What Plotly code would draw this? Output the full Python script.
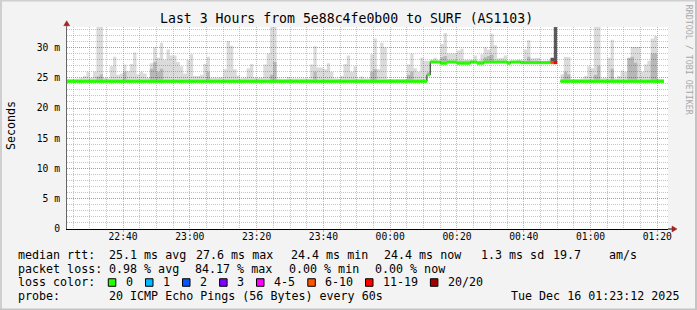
import plotly.graph_objects as go
from datetime import datetime, timedelta

# ---------------- data ----------------
TITLE = "Last 3 Hours from 5e88c4fe0b00 to SURF (AS1103)"
START = datetime(2025, 12, 15, 22, 23, 0)      # first 60 s bin
STEP_S = 60
VIEW = ["2025-12-15 22:23:12", "2025-12-16 01:23:12"]

# median rtt per minute (ms); None = no data
median_ms = [
    24.4, 24.4, 24.4, 24.4, 24.4, 24.4, 24.4, 24.4, 24.4, 24.4,
    24.4, 24.4, 24.4, 24.4, 24.4, 24.4, 24.4, 24.4, 24.4, 24.4,
    24.4, 24.4, 24.4, 24.4, 24.4, 24.4, 24.4, 24.4, 24.4, 24.4,
    24.4, 24.4, 24.4, 24.4, 24.4, 24.4, 24.4, 24.4, 24.4, 24.4,
    24.4, 24.4, 24.4, 24.4, 24.4, 24.4, 24.4, 24.4, 24.4, 24.4,
    24.4, 24.4, 24.4, 24.4, 24.4, 24.4, 24.4, 24.4, 24.4, 24.4,
    24.4, 24.4, 24.4, 24.4, 24.4, 24.4, 24.4, 24.4, 24.4, 24.4,
    24.4, 24.4, 24.4, 24.4, 24.4, 24.4, 24.4, 24.4, 24.4, 24.4,
    24.4, 24.4, 24.4, 24.4, 24.4, 24.4, 24.4, 24.4, 24.4, 24.4,
    24.4, 24.4, 24.4, 24.4, 24.4, 24.4, 24.4, 24.4, 24.4, 24.4,
    24.4, 24.4, 24.4, 24.4, 24.4, 24.4, 24.4, 24.4, 25.5, 27.6,
    27.6, 27.6, 27.4, 27.4, 27.6, 27.6, 27.6, 27.4, 27.4, 27.4,
    27.4, 27.6, 27.6, 27.4, 27.4, 27.6, 27.6, 27.6, 27.6, 27.6,
    27.6, 27.6, 27.4, 27.6, 27.6, 27.6, 27.5, 27.5, 27.5, 27.5,
    27.5, 27.5, 27.5, 27.5, 27.5, 27.5, 27.5, None, 24.4, 24.4,
    24.4, 24.4, 24.4, 24.4, 24.4, 24.4, 24.4, 24.4, 24.4, 24.4,
    24.4, 24.4, 24.4, 24.4, 24.4, 24.4, 24.4, 24.4, 24.4, 24.4,
    24.4, 24.4, 24.4, 24.4, 24.4, 24.4, 24.4, 24.4, 24.4,
]

# highest ping of each minute (outer smoke, ms)
smoke_top_ms = [
    24.8, 24.9, 24.8, 24.9, 25.0, 25.3, 26.0, 25.0, 26.0, 33.4,
    33.4, 25.0, 24.9, 26.9, 28.5, 25.5, 25.7, 27.2, 26.1, 27.3,
    29.2, 25.6, 26.0, 25.7, 25.0, 27.4, 30.0, 28.3, 30.8, 28.0,
    29.7, 28.7, 28.7, 27.6, 26.9, 25.7, 28.0, 28.9, 25.3, 25.3,
    25.5, 27.3, 28.5, 25.0, 24.9, 25.0, 25.1, 26.4, 31.1, 30.3,
    26.4, 25.4, 24.9, 25.0, 26.6, 27.3, 25.0, 24.9, 25.0, 27.2,
    29.0, 33.4, 33.4, 24.9, 24.8, 24.8, 25.1, 24.9, 24.8, 24.8,
    24.9, 24.8, 24.9, 27.2, 30.2, 26.7, 26.7, 26.4, 27.4, 26.0,
    24.9, 24.9, 25.3, 27.3, 28.7, 26.0, 26.9, 24.9, 25.2, 24.9,
    24.9, 28.9, 31.5, 26.4, 30.8, 30.0, 24.8, 24.7, 24.8, 24.7,
    24.8, 24.8, 27.2, 29.0, 26.6, 26.0, 28.3, 27.8, 27.8, 28.0,
    28.3, 27.8, 30.6, 32.4, 29.0, 29.0, 29.0, 29.5, 29.8, 28.0,
    28.0, 28.0, 28.7, 27.8, 28.9, 30.0, 29.7, 32.3, 30.4, 28.2,
    28.3, 28.7, 27.8, 27.7, 27.8, 28.0, 28.0, 29.7, 31.2, 28.2,
    28.3, 28.3, 27.8, 27.7, 27.9, 28.3, 33.4, None, 25.6, 28.5,
    28.4, 24.8, 24.7, 24.8, 24.9, 25.3, 26.9, 26.6, 33.4, 33.4,
    24.9, 25.0, 28.3, 31.3, 24.9, 25.3, 26.2, 26.0, 28.3, 30.1,
    30.2, 30.1, 26.0, 27.2, 27.8, 31.5, 31.9, 24.9, 24.8,
]

# upper edge of the denser inner smoke (ms)
smoke_mid_ms = [
    24.7, 24.7, 24.7, 24.7, 24.7, 24.7, 24.7, 24.7, 24.7, 25.2,
    25.6, 24.7, 24.7, 24.7, 24.7, 24.7, 24.7, 26.0, 24.7, 24.7,
    24.7, 24.7, 24.7, 24.7, 24.7, 26.5, 27.6, 26.0, 26.5, 24.7,
    24.7, 24.7, 24.7, 24.7, 24.7, 24.7, 24.7, 24.7, 24.7, 24.7,
    24.7, 24.7, 26.0, 24.7, 24.7, 24.7, 24.7, 24.7, 24.7, 24.7,
    24.7, 24.7, 24.7, 24.7, 24.7, 24.7, 24.7, 24.7, 24.7, 24.7,
    24.7, 25.5, 27.6, 24.7, 24.7, 24.7, 24.7, 24.7, 24.7, 24.7,
    24.7, 24.7, 24.7, 24.7, 26.0, 24.7, 24.7, 24.7, 24.7, 24.7,
    24.7, 24.7, 24.7, 24.7, 24.7, 24.7, 24.7, 24.7, 24.7, 24.7,
    24.7, 26.0, 26.4, 24.7, 24.7, 24.7, 24.7, 24.7, 24.7, 24.7,
    24.7, 24.7, 25.5, 26.0, 24.7, 24.7, 24.7, 24.7, 25.9, 27.8,
    27.8, 27.8, 28.4, 28.6, 27.8, 27.8, 27.8, 27.8, 27.8, 27.8,
    27.8, 27.8, 27.8, 27.8, 27.8, 28.4, 28.6, 28.8, 27.8, 27.8,
    27.8, 27.8, 27.8, 27.7, 27.8, 27.8, 27.8, 27.8, 28.5, 27.8,
    27.8, 27.8, 27.8, 27.7, 27.8, 28.3, 33.4, None, 24.8, 26.0,
    25.6, 24.7, 24.7, 24.7, 24.7, 24.7, 24.7, 24.7, 25.5, 27.0,
    24.7, 24.7, 24.7, 26.5, 24.7, 24.7, 24.7, 24.7, 28.5, 28.5,
    27.5, 24.7, 24.7, 24.7, 24.7, 29.0, 29.0, 24.7, 24.7,
]

# lost pings (of 20) per minute
loss_pings = [
    0, 0, 0, 0, 0, 0, 0, 0, 0, 0, 0, 0, 0, 0, 0, 0, 0, 0, 0, 0,
    0, 0, 0, 0, 0, 0, 0, 0, 0, 0, 0, 0, 0, 0, 0, 0, 0, 0, 0, 0,
    0, 0, 0, 0, 0, 0, 0, 0, 0, 0, 0, 0, 0, 0, 0, 0, 0, 0, 0, 0,
    0, 0, 0, 0, 0, 0, 0, 0, 0, 0, 0, 0, 0, 0, 0, 0, 0, 0, 0, 0,
    0, 0, 0, 0, 0, 0, 0, 0, 0, 0, 0, 0, 0, 0, 0, 0, 0, 0, 0, 0,
    0, 0, 0, 0, 0, 0, 0, 0, 0, 0, 0, 0, 0, 0, 0, 0, 0, 0, 0, 0,
    0, 0, 0, 0, 0, 0, 0, 0, 0, 0, 0, 0, 0, 0, 0, 0, 0, 0, 0, 0,
    0, 0, 0, 0, 0, 8, 17, 20, 0, 0, 0, 0, 0, 0, 0, 0, 0, 0, 0, 0,
    0, 0, 0, 0, 0, 0, 0, 0, 0, 0, 0, 0, 0, 0, 0, 0, 0, 0, 0,
]

y_tick_vals = [0, 5, 10, 15, 20, 25, 30]
y_tick_text = ["0", "5 m", "10 m", "15 m", "20 m", "25 m", "30 m"]
Y_MAX = 33.4

loss_labels = ["0", "1", "2", "3", "4-5", "6-10", "11-19", "20/20"]
loss_colors = ["#26ff00", "#00b8ff", "#0059ff", "#7e00ff",
               "#ff00ff", "#ff5500", "#ff0000", "#a10000"]
loss_upper = [0, 1, 2, 3, 5, 10, 19, 20]

rtt_fields = ["median rtt:", "25.1 ms avg", "27.6 ms max", "24.4 ms min",
              "24.4 ms now", "1.3 ms sd", "19.7", "am/s"]
pl_fields = ["packet loss:", "0.98 % avg", "84.17 % max", "0.00 % min", "0.00 % now"]
probe_fields = ["probe:", "20 ICMP Echo Pings (56 Bytes) every 60s"]
stamp_text = "Tue Dec 16 01:23:12 2025"
watermark = "RRDTOOL / TOBI OETIKER"

# ---------------- layout geometry (pixels) ----------------
W, H = 697, 310
L, R, T, B = 67, 668, 27.3, 228.7
MONO = "DejaVu Sans Mono"


def px(x):
    return (x - L) / (R - L)


def py(y):
    return (B - y) / (B - T)


n = len(median_ms)
step = timedelta(seconds=STEP_S)
times = [START + step * i for i in range(n)]


def loss_class(p):
    for k, up in enumerate(loss_upper):
        if p <= up:
            return k
    return len(loss_upper) - 1


LIGHT = "rgba(0,0,0,0.14)"
MID = "rgba(0,0,0,0.16)"
LOSSY = "rgba(0,0,0,0.64)"


def smoke_polys(upper, want_lossy):
    """Closed step polygons (median -> upper) for contiguous runs of minutes."""
    runs, cur = [], []
    for i in range(n):
        ok = (median_ms[i] is not None and upper[i] is not None
              and (loss_pings[i] >= 6) == want_lossy)
        if ok:
            cur.append(i)
        elif cur:
            runs.append(cur)
            cur = []
    if cur:
        runs.append(cur)
    xs, ys = [], []
    for run in runs:
        rx, ry = [], []
        for i in run:
            top = max(upper[i], median_ms[i])
            rx += [times[i], times[i] + step]
            ry += [top, top]
        for i in reversed(run):
            rx += [times[i] + step, times[i]]
            ry += [median_ms[i], median_ms[i]]
        rx.append(rx[0])
        ry.append(ry[0])
        xs += rx + [None]
        ys += ry + [None]
    return xs, ys


mid_clip = [None if (m is None or t is None) else min(m, t)
            for m, t in zip(smoke_mid_ms, smoke_top_ms)]

fig = go.Figure()
for upper, lossy, col in [(smoke_top_ms, False, LIGHT), (mid_clip, False, MID),
                          (smoke_top_ms, True, LOSSY)]:
    xs, ys = smoke_polys(upper, lossy)
    if xs:
        fig.add_trace(go.Scatter(x=xs, y=ys, mode="lines", fill="toself",
                                 fillcolor=col, line=dict(width=0, color=col),
                                 hoverinfo="skip"))

# thin connector (step) line
fig.add_trace(go.Scatter(x=times + [times[-1] + step],
                         y=median_ms + [median_ms[-1]], mode="lines",
                         line=dict(color="#222222", width=1, shape="hv"),
                         connectgaps=False, hoverinfo="skip"))

# thick median segments coloured by loss
for k, col in enumerate(loss_colors):
    xs, ys = [], []
    for t0, m, lp in zip(times, median_ms, loss_pings):
        if m is None or loss_class(lp) != k:
            continue
        xs += [t0, t0 + step, None]
        ys += [m, m, None]
    if xs:
        fig.add_trace(go.Scatter(x=xs, y=ys, mode="lines",
                                 line=dict(color=col, width=3),
                                 connectgaps=False, hoverinfo="skip"))

GRID_MAJ = "rgba(255,80,80,0.55)"
GRID_MIN = "rgba(140,140,140,0.5)"

fig.update_layout(
    width=W, height=H,
    margin=dict(l=L, r=W - R, t=T, b=H - B, pad=0),
    paper_bgcolor="#f3f3f3", plot_bgcolor="#ffffff",
    showlegend=False,
    font=dict(family=MONO, size=11.66, color="#000000"),
    xaxis=dict(
        type="date", range=VIEW, fixedrange=True,
        tick0="2025-12-15 22:40:00", dtick=20 * 60 * 1000, tickformat="%H:%M",
        showgrid=True, gridcolor=GRID_MAJ, griddash="1px,1px", gridwidth=1,
        ticks="outside", ticklen=2, tickcolor=GRID_MAJ, ticklabelstandoff=-4,
        tickfont=dict(family=MONO, size=9.7, color="#000000"),
        showline=True, linecolor="#000000", linewidth=1, zeroline=False,
        minor=dict(dtick=5 * 60 * 1000, showgrid=True, gridcolor=GRID_MIN,
                   griddash="1px,1px", gridwidth=1, ticks=""),
    ),
    yaxis=dict(
        range=[0, Y_MAX], fixedrange=True,
        tickmode="array", tickvals=y_tick_vals, ticktext=y_tick_text,
        showgrid=True, gridcolor=GRID_MAJ, griddash="1px,1px", gridwidth=1,
        ticks="outside", ticklen=4, tickcolor="rgba(0,0,0,0)",
        tickfont=dict(family=MONO, size=9.7, color="#000000"),
        showline=True, linecolor="#666666", linewidth=1, zeroline=False,
        minor=dict(dtick=1, tick0=0, showgrid=True, gridcolor=GRID_MIN,
                   griddash="1px,1px", gridwidth=1, ticks=""),
    ),
)

ann = []


def text(s, x, y, size=11.66, anchor="left", color="#000000", angle=0):
    ann.append(dict(text=s, x=px(x), y=py(y), xref="paper", yref="paper",
                    xanchor=anchor, yanchor="middle", showarrow=False,
                    textangle=angle, font=dict(family=MONO, size=size, color=color)))


text(TITLE, 346.8, 19, size=13.2, anchor="center")
text("Seconds", 11, 126, angle=-90, anchor="center")
text(watermark, 689, 60, size=8.3, anchor="center", color="#a8a8a8", angle=90)

for s, x in zip(rtt_fields, [16, 107.3, 194, 289, 382, 479, 551, 607]):
    text(s, x, 254.8)
for s, x in zip(pl_fields, [16, 107.3, 193, 287, 372.5]):
    text(s, x, 268.3)
text("loss color:", 16, 281.9)
box_x = [108.3, 145.5, 182.5, 219.6, 256.5, 307.8, 365.5, 430.4]
shapes = []
for lab, col, bx in zip(loss_labels, loss_colors, box_x):
    shapes.append(dict(type="rect", xref="paper", yref="paper",
                       x0=px(bx), x1=px(bx + 7.5), y0=py(285.8), y1=py(278.3),
                       fillcolor=col, line=dict(color="#000000", width=1)))
    text(lab, bx + 15.3, 281.9)
for s, x in zip(probe_fields, [16, 107.3]):
    text(s, x, 295.5)
text(stamp_text, 680.5, 295.5, anchor="right")

# frame
for (x0, y0, x1, y1, c) in [(0, 1, W, 1, "#cfcfcf"), (1, 0, 1, H, "#cfcfcf"),
                            (0, H - 1, W, H - 1, "#c4c4c4"), (W - 1, 0, W - 1, H, "#c4c4c4")]:
    shapes.append(dict(type="line", xref="paper", yref="paper",
                       x0=px(x0), y0=py(y0), x1=px(x1), y1=py(y1),
                       line=dict(color=c, width=2)))

# axis extensions and arrows
AX = 66.7
shapes.append(dict(type="line", xref="paper", yref="paper", x0=px(AX), x1=px(AX),
                   y0=py(T), y1=py(23.5), line=dict(color="#666666", width=1)))
shapes.append(dict(type="path", xref="paper", yref="paper",
                   path=f"M {px(AX - 3)} {py(26)} L {px(AX + 3)} {py(26)} L {px(AX)} {py(21)} Z",
                   fillcolor="#a52020", line=dict(color="#a52020", width=0.5)))
shapes.append(dict(type="line", xref="paper", yref="paper", x0=px(R), x1=px(672),
                   y0=py(B), y1=py(B), line=dict(color="#000000", width=1)))
shapes.append(dict(type="path", xref="paper", yref="paper",
                   path=f"M {px(672)} {py(B - 3)} L {px(672)} {py(B + 3)} L {px(677)} {py(B)} Z",
                   fillcolor="#a52020", line=dict(color="#a52020", width=0.5)))

fig.update_layout(annotations=ann, shapes=shapes)
fig.write_html("out.html")
